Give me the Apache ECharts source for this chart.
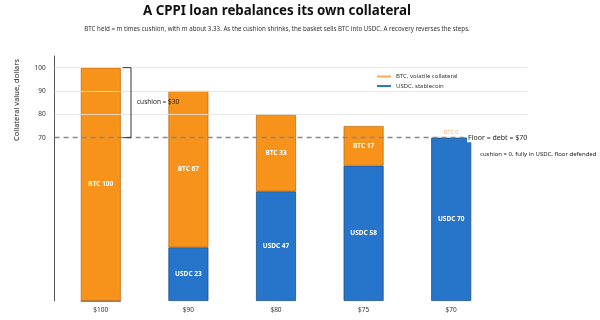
<!DOCTYPE html>
<html>
<head>
<meta charset="utf-8">
<script src="https://cdn.jsdelivr.net/npm/echarts@6/dist/echarts.min.js"></script>
<style>html,body{margin:0;padding:0;background:#fff}#c{width:600px;height:320px}</style>
</head>
<body>
<div id="c"></div>
<script>
const categories = ['$100', '$90', '$80', '$75', '$70'];
const btcValues = [100, 67, 33, 17, 0];
const usdcValues = [0, 23, 47, 58, 70];
const yTickLabels = [70, 80, 90, 100];
const floorValue = 70;
const cushionTop = 100;

const FONT = 'Noto Sans';
const ORANGE = '#F7931A';
const BLUE = '#2775CA';

const chart = echarts.init(document.getElementById('c'));

const xMin = -0.527, xMax = 4.865;
const TOP = 56, BOTTOM = 19;

const usdcData = usdcValues.map(v => ({ value: v, label: { show: v > 0 } }));
const btcData = btcValues.map(v => v > 0 ? v : ({
  value: v,
  itemStyle: { borderWidth: 0 },
  label: { show: true, position: 'top', distance: 2, color: '#f4b262', fontWeight: 'normal', fontSize: 5.5, formatter: 'BTC ' + v }
}));

const option = {
  animation: false,
  textStyle: { fontFamily: FONT },
  title: {
    text: 'A CPPI loan rebalances its own collateral',
    subtext: 'BTC held = m times cushion, with m about 3.33. As the cushion shrinks, the basket sells BTC into USDC. A recovery reverses the steps.',
    left: 277, textAlign: 'center', top: 5, itemGap: 8, padding: 0,
    textStyle: { fontFamily: FONT, fontSize: 13.3, fontWeight: 'bold', color: '#111' },
    subtextStyle: { fontFamily: FONT, fontSize: 6.2, color: '#333' }
  },
  legend: {
    orient: 'vertical', left: 377, top: 73.5, itemGap: 3.5, padding: 0,
    itemWidth: 14, itemHeight: 2, icon: 'rect',
    textStyle: { fontFamily: FONT, fontSize: 6, color: '#333' },
    data: [
      { name: 'BTC, volatile collateral', itemStyle: { color: '#f5ad55', borderWidth: 0 } },
      { name: 'USDC, stablecoin', itemStyle: { color: '#2f78c8', borderWidth: 0 } }
    ]
  },
  grid: [
    { left: 57, width: 438, top: TOP, bottom: BOTTOM },
    { left: 54.6, right: 73, top: TOP, bottom: BOTTOM }
  ],
  xAxis: [
    {
      type: 'category', gridIndex: 0, data: categories,
      axisLine: { show: false }, axisTick: { show: false }, splitLine: { show: false },
      axisLabel: { fontFamily: FONT, fontSize: 6.5, color: '#333', margin: 6 }
    },
    {
      type: 'value', gridIndex: 1, min: xMin, max: xMax, show: false
    }
  ],
  yAxis: [
    { type: 'value', gridIndex: 0, min: 0, max: 105, show: false },
    {
      type: 'value', gridIndex: 1, min: 0, max: 105,
      axisLine: { show: true, onZero: false, lineStyle: { color: '#555', width: 1 } },
      axisTick: { show: false },
      splitLine: { show: false },
      axisLabel: { customValues: yTickLabels, fontFamily: FONT, fontSize: 6.5, color: '#333', margin: 9 }
    }
  ],
  series: [
    {
      name: 'USDC, stablecoin', type: 'bar', stack: 'basket', barWidth: 40,
      xAxisIndex: 0, yAxisIndex: 0,
      itemStyle: { color: BLUE, borderColor: '#1b4f8a', borderWidth: 0.8 },
      label: { show: true, position: 'inside', color: '#fff', fontWeight: 'bold', fontSize: 6.5, fontFamily: FONT, formatter: p => 'USDC ' + p.value },
      data: usdcData, z: 2
    },
    {
      name: 'BTC, volatile collateral', type: 'bar', stack: 'basket', barWidth: 40,
      xAxisIndex: 0, yAxisIndex: 0,
      itemStyle: { color: ORANGE, borderColor: '#c0701a', borderWidth: 0.8 },
      label: { show: true, position: 'inside', color: '#fff', fontWeight: 'bold', fontSize: 6.5, fontFamily: FONT, formatter: p => 'BTC ' + p.value },
      data: btcData, z: 2
    },
    {
      name: 'grid', type: 'line', data: [], xAxisIndex: 1, yAxisIndex: 1, z: 4,
      markLine: {
        silent: true, symbol: 'none', animation: false,
        lineStyle: { type: 'solid', color: 'rgba(228,228,228,0.8)', width: 1 },
        label: { show: false },
        data: yTickLabels.filter(v => v !== floorValue).map(v => ({ yAxis: v }))
      }
    },
    {
      name: 'floor', type: 'line', data: [], xAxisIndex: 1, yAxisIndex: 1, z: 5,
      markLine: {
        silent: true, symbol: 'none', animation: false,
        lineStyle: { type: [5, 4], color: '#888', width: 1.4 },
        label: {
          show: true, position: 'end', distance: 1, formatter: 'Floor = debt = $' + floorValue,
          color: '#222', fontSize: 7, fontFamily: FONT, backgroundColor: '#fff', padding: [1, 1]
        },
        data: [[{ coord: [xMin, floorValue] }, { coord: [4.17, floorValue] }]]
      }
    },
    {
      name: 'bracket', type: 'custom', xAxisIndex: 1, yAxisIndex: 1, z: 5, silent: true,
      data: [[0.25, 0.345, cushionTop, floorValue]],
      renderItem: (params, api) => {
        const a = api.coord([api.value(0), api.value(2)]);
        const b = api.coord([api.value(1), api.value(2)]);
        const c = api.coord([api.value(1), api.value(3)]);
        const d = api.coord([api.value(0), api.value(3)]);
        return {
          type: 'polyline',
          shape: { points: [a, b, c, d] },
          style: { stroke: '#333', lineWidth: 1, fill: null }
        };
      }
    }
  ],
  graphic: [
    {
      type: 'text', x: 17, y: 100, rotation: Math.PI / 2, z: 100,
      style: { text: 'Collateral value, dollars', fontFamily: FONT, fontSize: 7.5, fill: '#222', align: 'center', verticalAlign: 'middle' }
    },
    {
      type: 'text', x: 137, y: 102, z: 100,
      style: { text: 'cushion = $' + (cushionTop - floorValue), fontFamily: FONT, fontSize: 6.5, fill: '#222', align: 'left', verticalAlign: 'middle' }
    },
    {
      type: 'text', x: 480, y: 154, z: 100,
      style: { text: 'cushion = 0, fully in USDC, floor defended', fontFamily: FONT, fontSize: 6, fill: '#222', align: 'left', verticalAlign: 'middle' }
    }
  ]
};
chart.setOption(option);
</script>
</body>
</html>
